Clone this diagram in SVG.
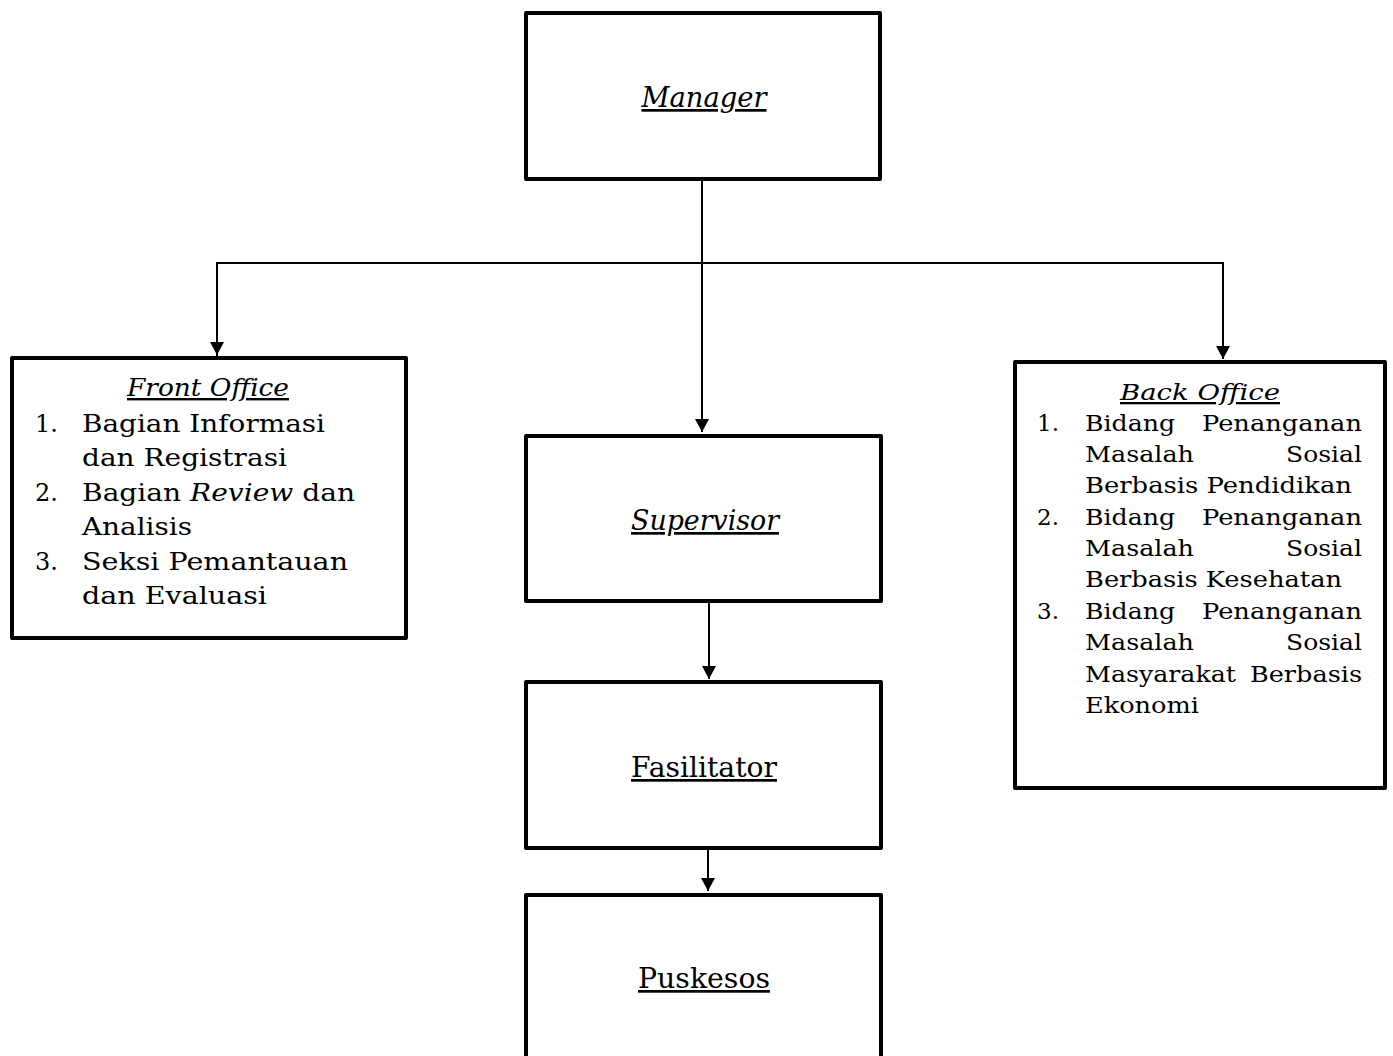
<svg xmlns="http://www.w3.org/2000/svg" width="1393" height="1056" viewBox="0 0 1393 1056">
<defs>
<style>
.box{fill:#fff;stroke:#000;stroke-width:4;stroke-linejoin:round}
.conn{stroke:#000;stroke-width:2;fill:none}
.t{font-family:"DejaVu Serif","Liberation Serif",serif;fill:#000}
.c{font-size:27px;text-anchor:middle;text-decoration:underline}
.l{font-size:24px}
.b{font-size:23px}
.i{font-style:italic}
</style>
<marker id="ah" markerUnits="userSpaceOnUse" markerWidth="15" markerHeight="14" refX="13" refY="7" orient="auto">
<path d="M0,0 L13,7 L0,14 z" fill="#000"/>
</marker>
</defs>
<rect width="1393" height="1056" fill="#fff"/>
<g id="connectors">
<line class="conn" x1="702" y1="180" x2="702" y2="432" marker-end="url(#ah)"/>
<polyline class="conn" points="217,356 217,263 1223,263 1223,358"/>
<line class="conn" x1="217" y1="263" x2="217" y2="355" marker-end="url(#ah)"/>
<line class="conn" x1="1223" y1="263" x2="1223" y2="359" marker-end="url(#ah)"/>
<line class="conn" x1="709" y1="603" x2="709" y2="679" marker-end="url(#ah)"/>
<line class="conn" x1="708" y1="850" x2="708" y2="891" marker-end="url(#ah)"/>
</g>
<g id="manager">
<rect class="box" x="526" y="13" width="354" height="166"/>
<text class="t c i" x="704" y="107" textLength="125" lengthAdjust="spacingAndGlyphs">Manager</text>
</g>
<g id="front-office">
<rect class="box" x="12" y="358" width="394" height="280"/>
<text class="t l i" x="127" y="396" textLength="162" lengthAdjust="spacingAndGlyphs" text-decoration="underline">Front Office</text>
<text class="t l" x="35" y="432">1.</text>
<text class="t l" x="82" y="432" textLength="243" lengthAdjust="spacingAndGlyphs">Bagian Informasi</text>
<text class="t l" x="82" y="466" textLength="205" lengthAdjust="spacingAndGlyphs">dan Registrasi</text>
<text class="t l" x="35" y="501">2.</text>
<text class="t l" x="82" y="501" textLength="273" lengthAdjust="spacingAndGlyphs">Bagian <tspan class="i">Review</tspan> dan</text>
<text class="t l" x="82" y="535" textLength="110" lengthAdjust="spacingAndGlyphs">Analisis</text>
<text class="t l" x="35" y="570">3.</text>
<text class="t l" x="82" y="570" textLength="266" lengthAdjust="spacingAndGlyphs">Seksi Pemantauan</text>
<text class="t l" x="82" y="604" textLength="185" lengthAdjust="spacingAndGlyphs">dan Evaluasi</text>
</g>
<g id="back-office">
<rect class="box" x="1015" y="362" width="370" height="426"/>
<text class="t b i" x="1120" y="400" textLength="160" lengthAdjust="spacingAndGlyphs" text-decoration="underline">Back Office</text>
<text class="t b" x="1037" y="431">1.</text>
<text class="t b" x="1085" y="431" textLength="90" lengthAdjust="spacingAndGlyphs">Bidang</text>
<text class="t b" x="1202" y="431" textLength="160" lengthAdjust="spacingAndGlyphs">Penanganan</text>
<text class="t b" x="1085" y="462" textLength="109" lengthAdjust="spacingAndGlyphs">Masalah</text>
<text class="t b" x="1286" y="462" textLength="76" lengthAdjust="spacingAndGlyphs">Sosial</text>
<text class="t b" x="1085" y="493" textLength="267" lengthAdjust="spacingAndGlyphs">Berbasis Pendidikan</text>
<text class="t b" x="1037" y="525">2.</text>
<text class="t b" x="1085" y="525" textLength="90" lengthAdjust="spacingAndGlyphs">Bidang</text>
<text class="t b" x="1202" y="525" textLength="160" lengthAdjust="spacingAndGlyphs">Penanganan</text>
<text class="t b" x="1085" y="556" textLength="109" lengthAdjust="spacingAndGlyphs">Masalah</text>
<text class="t b" x="1286" y="556" textLength="76" lengthAdjust="spacingAndGlyphs">Sosial</text>
<text class="t b" x="1085" y="587" textLength="257" lengthAdjust="spacingAndGlyphs">Berbasis Kesehatan</text>
<text class="t b" x="1037" y="619">3.</text>
<text class="t b" x="1085" y="619" textLength="90" lengthAdjust="spacingAndGlyphs">Bidang</text>
<text class="t b" x="1202" y="619" textLength="160" lengthAdjust="spacingAndGlyphs">Penanganan</text>
<text class="t b" x="1085" y="650" textLength="109" lengthAdjust="spacingAndGlyphs">Masalah</text>
<text class="t b" x="1286" y="650" textLength="76" lengthAdjust="spacingAndGlyphs">Sosial</text>
<text class="t b" x="1085" y="682" textLength="151" lengthAdjust="spacingAndGlyphs">Masyarakat</text>
<text class="t b" x="1250" y="682" textLength="112" lengthAdjust="spacingAndGlyphs">Berbasis</text>
<text class="t b" x="1085" y="713" textLength="114" lengthAdjust="spacingAndGlyphs">Ekonomi</text>
</g>
<g id="supervisor">
<rect class="box" x="526" y="436" width="355" height="165"/>
<text class="t c i" x="705" y="530" textLength="148" lengthAdjust="spacingAndGlyphs">Supervisor</text>
</g>
<g id="fasilitator">
<rect class="box" x="526" y="682" width="355" height="166"/>
<text class="t c" x="704" y="777" textLength="146" lengthAdjust="spacingAndGlyphs">Fasilitator</text>
</g>
<g id="puskesos">
<rect class="box" x="526" y="895" width="355" height="200"/>
<text class="t c" x="704" y="988" textLength="132" lengthAdjust="spacingAndGlyphs">Puskesos</text>
</g>
</svg>
